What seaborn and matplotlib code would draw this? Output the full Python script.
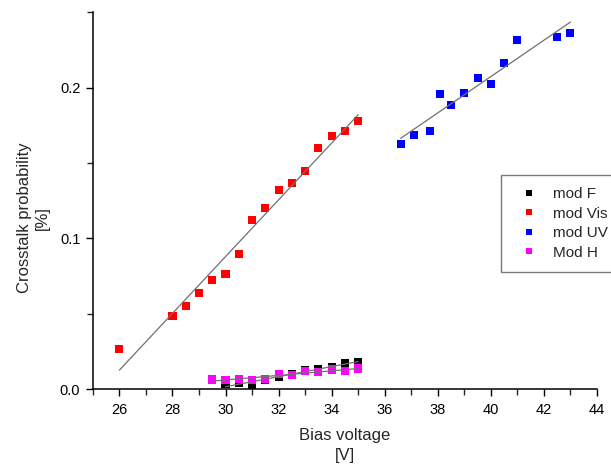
import numpy as np
import pandas as pd
import matplotlib
matplotlib.use("Agg")
import matplotlib.pyplot as plt
from matplotlib.ticker import MultipleLocator, FormatStrFormatter
import seaborn as sns

# ---- data ----
vis_x = [26.0, 28.0, 28.5, 29.0, 29.5, 30.0, 30.5, 31.0, 31.5, 32.0, 32.5, 33.0, 33.5, 34.0, 34.5, 35.0]
vis_y = [0.0264, 0.0487, 0.0554, 0.0640, 0.0722, 0.0762, 0.0895, 0.1120, 0.1200, 0.1318, 0.1367, 0.1446, 0.1600, 0.1680, 0.1710, 0.1776]

uv_x = [36.6, 37.1, 37.7, 38.1, 38.5, 39.0, 39.5, 40.0, 40.5, 41.0, 42.5, 43.0]
uv_y = [0.1626, 0.1688, 0.1710, 0.1958, 0.1885, 0.1965, 0.2062, 0.2022, 0.2160, 0.2317, 0.2334, 0.2361]

f_x = [30.0, 30.5, 31.0, 31.5, 32.0, 32.5, 33.0, 33.5, 34.0, 34.5, 35.0]
f_y = [0.0031, 0.0038, 0.0027, 0.0060, 0.0078, 0.0098, 0.0126, 0.0136, 0.0146, 0.0171, 0.0181]

h_x = [29.5, 30.0, 30.5, 31.0, 31.5, 32.0, 32.5, 33.0, 33.5, 34.0, 34.5, 35.0]
h_y = [0.0064, 0.0058, 0.0070, 0.0062, 0.0070, 0.0098, 0.0096, 0.0118, 0.0115, 0.0130, 0.0118, 0.0137]

series_names = ["mod F", "mod Vis", "mod UV", "Mod H"]
series_colors = ["#000000", "#ff0000", "#0000ff", "#ff00ff"]

x_ticks = [26, 28, 30, 32, 34, 36, 38, 40, 42, 44]
y_ticks = [0.0, 0.1, 0.2]

df = pd.concat([
    pd.DataFrame({"x": f_x, "y": f_y, "s": "mod F"}),
    pd.DataFrame({"x": vis_x, "y": vis_y, "s": "mod Vis"}),
    pd.DataFrame({"x": uv_x, "y": uv_y, "s": "mod UV"}),
    pd.DataFrame({"x": h_x, "y": h_y, "s": "Mod H"}),
], ignore_index=True)

sns.set_style("ticks")
plt.rcParams["font.family"] = ["Liberation Sans", "DejaVu Sans"]

fig = plt.figure(figsize=(6.11, 4.66), dpi=100)
ax = fig.add_axes([0.152, 0.165, 0.825, 0.809])

# linear fit lines
for name in series_names:
    sub = df[df.s == name]
    sns.regplot(data=sub, x="x", y="y", scatter=False, ci=None, ax=ax,
                color="#707070", line_kws={"lw": 0.9, "zorder": 3})

sns.scatterplot(data=df, x="x", y="y", hue="s", hue_order=series_names,
                palette=series_colors, marker="s", s=34, linewidth=0,
                ax=ax, zorder=2, legend=True)

ax.set_xlim(25, 44)
ax.set_ylim(0, 0.25)
ax.set_xticks(x_ticks)
ax.set_yticks(y_ticks)
ax.xaxis.set_minor_locator(MultipleLocator(1))
ax.yaxis.set_minor_locator(MultipleLocator(0.05))
ax.yaxis.set_major_formatter(FormatStrFormatter("%.1f"))
ax.tick_params(axis="both", which="major", direction="out", length=5, width=1,
               labelsize=10.5, colors="black", pad=4)
ax.tick_params(axis="x", which="major", pad=5)
ax.tick_params(axis="both", which="minor", direction="out", length=4, width=1)
for sp in ["top", "right"]:
    ax.spines[sp].set_visible(False)
for sp in ["left", "bottom"]:
    ax.spines[sp].set_linewidth(1.1)
    ax.spines[sp].set_color("black")

ax.set_xlabel("Bias voltage\n[V]", fontsize=12, linespacing=1.45)
ax.set_ylabel("Crosstalk probability\n[%]", fontsize=12, linespacing=1.25)
ax.xaxis.set_label_coords(0.5, -0.103)
ax.yaxis.set_label_coords(-0.086, 0.455)

handles, labels = ax.get_legend_handles_labels()
leg = ax.legend(handles, labels, loc="upper left", bbox_to_anchor=(501.5 / 611, 1 - 175 / 466),
                bbox_transform=fig.transFigure, frameon=True, fancybox=False,
                fontsize=11, handlelength=2.0, handletextpad=0.55, borderpad=0.8,
                labelspacing=0.36, markerscale=0.75, borderaxespad=0)
leg.get_frame().set_edgecolor("#555555")
leg.get_frame().set_linewidth(1.0)

fig.savefig("out.png", dpi=100)
